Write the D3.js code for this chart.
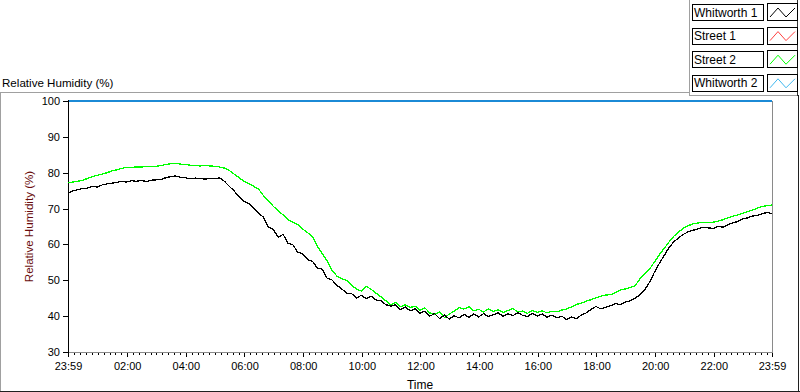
<!DOCTYPE html>
<html>
<head>
<meta charset="utf-8">
<script src="https://cdn.jsdelivr.net/npm/d3@7"></script>
<style>
  body { margin: 0; background: #fff; }
  svg { display: block; font-family: "Liberation Sans", Arial, sans-serif; }
</style>
</head>
<body>
<script>
// ---- data (10 minute samples from 23:59 to 23:59) ----
var stepMinutes = 10;
var seriesNames = ["Whitworth 1", "Street 1", "Street 2", "Whitworth 2"];
var seriesColors = ["#000000", "#ff4040", "#00ff00", "#40b8f0"];
var yTicks = [30, 40, 50, 60, 70, 80, 90, 100];
var xTickLabels = ["23:59", "02:00", "04:00", "06:00", "08:00", "10:00", "12:00",
                   "14:00", "16:00", "18:00", "20:00", "22:00", "23:59"];

var whitworth1 = [
  74.4, 74.9, 75.3, 75.6, 75.7, 76.2, 76.0, 76.6, 76.9, 77.1, 77.3, 77.6,
  77.4, 77.8, 77.6, 77.9, 77.5, 77.9, 78.0, 78.1, 78.6, 78.9, 79.1, 78.7,
  78.6, 78.3, 78.5, 78.4, 78.2, 78.4, 78.3, 78.6, 77.6, 76.2, 74.9, 73.3,
  72.0, 71.4, 70.2, 68.6, 67.6, 64.8, 64.2, 62.0, 62.8, 60.3, 59.9, 57.8,
  57.4, 55.8, 55.3, 53.4, 53.1, 50.6, 50.1, 48.6, 47.6, 46.4, 46.3, 45.1,
  45.8, 44.9, 45.6, 44.5, 44.3, 43.2, 42.8, 43.2, 41.8, 42.5, 41.5, 42.0,
  40.8, 41.4, 40.0, 40.7, 39.3, 40.3, 39.2, 40.1, 39.5, 40.5, 39.7, 40.6,
  39.8, 40.7, 39.9, 40.4, 40.9, 40.0, 40.7, 40.1, 41.0, 40.2, 39.9, 40.8,
  40.0, 40.6, 39.7, 40.3, 39.5, 40.0, 39.0, 39.8, 39.3, 40.3, 40.9, 41.9,
  42.7, 42.0, 42.5, 42.9, 43.5, 43.2, 43.9, 44.3, 45.0, 46.0, 47.4, 49.6,
  52.4, 54.8, 57.0, 59.3, 60.8, 62.0, 62.9, 63.6, 64.0, 64.4, 64.8, 64.6,
  64.5, 65.0, 64.8, 65.5, 66.0, 66.4, 67.1, 67.4, 67.9, 68.1, 68.6, 68.9,
  68.6
];

var street2 = [
  77.2, 77.4, 77.6, 77.9, 78.4, 78.9, 79.3, 79.6, 80.0, 80.5, 80.8, 81.2,
  81.5, 81.5, 81.6, 81.6, 81.7, 81.7, 81.8, 82.0, 82.3, 82.5, 82.6, 82.4,
  82.3, 82.1, 82.0, 81.9, 82.0, 81.9, 81.8, 81.6, 81.3, 80.6, 79.6, 78.6,
  77.6, 76.9, 76.2, 75.4, 73.6, 72.2, 70.6, 69.4, 68.2, 66.9, 66.2, 65.5,
  64.3, 63.3, 62.2, 59.4, 57.5, 55.4, 52.8, 51.2, 50.4, 50.0, 48.6, 47.6,
  47.0, 48.3, 47.5, 46.4, 45.4, 44.3, 43.1, 43.8, 42.6, 43.2, 42.4, 42.8,
  41.6, 42.3, 40.9, 40.4, 41.2, 39.6, 40.6, 41.4, 42.4, 42.0, 42.6, 41.5,
  41.9, 41.2, 42.0, 41.3, 41.8, 41.0, 41.6, 42.1, 41.2, 41.4, 40.8, 41.6,
  41.0, 41.5, 40.9, 41.4, 41.2, 41.7, 42.0, 42.6, 43.3, 43.6, 44.2, 44.6,
  45.1, 45.6, 45.9, 46.0, 46.6, 47.3, 47.6, 48.0, 48.5, 50.4, 51.8, 53.2,
  55.2, 57.2, 59.0, 60.8, 62.4, 63.6, 64.6, 65.3, 65.8, 66.0, 66.1, 66.1,
  66.2, 66.5, 66.9, 67.4, 67.9, 68.2, 68.7, 69.1, 69.6, 70.1, 70.6, 70.8,
  71.0
];

function init() {
    var w = 800, h = 392;
    var left = 68, right = 772, top = 101, bottom = 352;

    var svg = d3.select("body").append("svg")
        .attr("width", w)
        .attr("height", h);

    var t0 = new Date(2000, 0, 1, 23, 59);
    var t1 = new Date(2000, 0, 2, 23, 59);
    var parseT = d3.timeParse("%H:%M");

    var x = d3.scaleTime().domain([t0, t1]).range([left, right]);
    var y = d3.scaleLinear().domain([30, 100]).range([bottom, top]);

    // tick dates from labels
    var tickDates = xTickLabels.map(function(s, i) {
        if (i === 0) return t0;
        if (i === xTickLabels.length - 1) return t1;
        var p = parseT(s);
        return new Date(2000, 0, 2, p.getHours(), p.getMinutes());
    });
    var minorDates = d3.timeMinute.every(12).range(new Date(2000, 0, 2, 0, 0), t1);

    // outer frames
    var frame = svg.append("g").attr("shape-rendering", "crispEdges");
    frame.append("line").attr("x1", 0).attr("x2", 690).attr("y1", 92.5).attr("y2", 92.5).attr("stroke", "#a0a0a0");
    frame.append("line").attr("x1", 0.5).attr("x2", 0.5).attr("y1", 92).attr("y2", 392).attr("stroke", "#a0a0a0");
    frame.append("line").attr("x1", 0).attr("x2", 800).attr("y1", 391.5).attr("y2", 391.5).attr("stroke", "#202020");
    frame.append("line").attr("x1", 798.5).attr("x2", 798.5).attr("y1", 95).attr("y2", 392).attr("stroke", "#202020");
    frame.append("line").attr("x1", 689.5).attr("x2", 689.5).attr("y1", 0).attr("y2", 96).attr("stroke", "#a0a0a0");
    frame.append("line").attr("x1", 689).attr("x2", 798).attr("y1", 95.5).attr("y2", 95.5).attr("stroke", "#a0a0a0");
    frame.append("line").attr("x1", 797.5).attr("x2", 797.5).attr("y1", 0).attr("y2", 96).attr("stroke", "#303030");

    svg.append("text")
        .attr("x", 2).attr("y", 87)
        .attr("font-size", "11.6px")
        .attr("fill", "#000")
        .text("Relative Humidity (%)");

    // y axis
    var yAxis = svg.append("g")
        .attr("transform", "translate(" + left + ",0)")
        .call(d3.axisLeft(y).tickValues(yTicks).tickSize(5).tickPadding(3));
    yAxis.select(".domain").remove();
    yAxis.selectAll("line").attr("stroke", "#000").attr("shape-rendering", "crispEdges");
    yAxis.selectAll("text").attr("font-size", "11px").attr("fill", "#000")
        .attr("font-family", "Liberation Sans, Arial, sans-serif");

    // x axis minor ticks
    var xMinor = svg.append("g")
        .attr("transform", "translate(0," + bottom + ")")
        .call(d3.axisBottom(x).tickValues(minorDates).tickSize(3).tickFormat(""));
    xMinor.select(".domain").remove();
    xMinor.selectAll("line").attr("stroke", "#000").attr("shape-rendering", "crispEdges");

    var xAxis = svg.append("g")
        .attr("transform", "translate(0," + bottom + ")")
        .call(d3.axisBottom(x).tickValues(tickDates).tickSize(5).tickPadding(5)
            .tickFormat(function(d, i) { return xTickLabels[i]; }));
    xAxis.select(".domain").remove();
    xAxis.selectAll("line").attr("stroke", "#000").attr("shape-rendering", "crispEdges");
    xAxis.selectAll("text").attr("font-size", "11px").attr("fill", "#000")
        .attr("font-family", "Liberation Sans, Arial, sans-serif");

    // plot borders
    var border = svg.append("g").attr("shape-rendering", "crispEdges");
    border.append("line").attr("x1", left).attr("x2", right).attr("y1", bottom + 0.5).attr("y2", bottom + 0.5).attr("stroke", "#8a8a8a");
    border.append("line").attr("x1", right + 0.5).attr("x2", right + 0.5).attr("y1", top).attr("y2", bottom + 1).attr("stroke", "#8a8a8a");
    border.append("line").attr("x1", left).attr("x2", right).attr("y1", top).attr("y2", top).attr("stroke", "#1b8ad6").attr("stroke-width", 2);
    border.append("line").attr("x1", left + 0.5).attr("x2", left + 0.5).attr("y1", top - 1).attr("y2", bottom + 1).attr("stroke", "#000");

    // axis titles
    svg.append("text")
        .attr("transform", "translate(33," + ((top + bottom) / 2) + ") rotate(-90)")
        .attr("text-anchor", "middle")
        .attr("font-size", "11.6px")
        .attr("fill", "#6a0c0c")
        .text("Relative Humidity (%)");
    svg.append("text")
        .attr("x", (left + right) / 2).attr("y", 389)
        .attr("text-anchor", "middle")
        .attr("font-size", "12px")
        .attr("fill", "#000")
        .text("Time");

    // lines
    var line = d3.line()
        .x(function(d, i) { return x(d3.timeMinute.offset(t0, i * stepMinutes)); })
        .y(function(d) { return y(d); });

    svg.append("path").datum(street2)
        .attr("d", line).attr("fill", "none")
        .attr("stroke", seriesColors[2]).attr("stroke-width", 1.3)
        .attr("shape-rendering", "crispEdges");
    svg.append("path").datum(whitworth1)
        .attr("d", line).attr("fill", "none")
        .attr("stroke", seriesColors[0]).attr("stroke-width", 1.3)
        .attr("shape-rendering", "crispEdges");

    // legend
    var legend = svg.append("g");
    var zig = [[3, 13], [11, 4], [19, 13], [28, 4]];
    seriesNames.forEach(function(name, i) {
        var gy = 4 + i * 23.6;
        var g = legend.append("g").attr("transform", "translate(0," + gy + ")");
        g.append("rect").attr("x", 692.5).attr("y", 0.5).attr("width", 71).attr("height", 16)
            .attr("fill", "#fff").attr("stroke", "#000").attr("shape-rendering", "crispEdges");
        g.append("text").attr("x", 694).attr("y", 12.5)
            .attr("font-size", "12px").attr("fill", "#000").text(name);
        g.append("rect").attr("x", 767.5).attr("y", -0.5).attr("width", 30).attr("height", 17)
            .attr("fill", "#fff").attr("stroke", "#000").attr("shape-rendering", "crispEdges");
        g.append("path")
            .attr("d", d3.line()(zig.map(function(p) { return [767 + p[0], p[1]]; })))
            .attr("fill", "none").attr("stroke", seriesColors[i]).attr("stroke-width", 1);
    });
}

window.onload = init;
</script>
</body>
</html>
